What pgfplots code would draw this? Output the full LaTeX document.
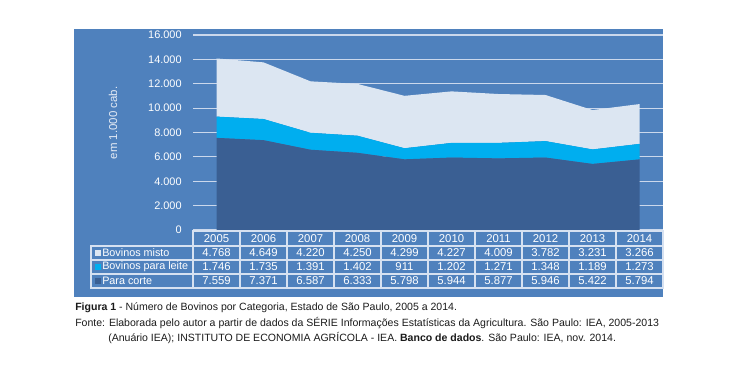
\documentclass[border=0pt]{standalone}
\usepackage{pgfplots}
\pgfplotsset{compat=1.18}
\usepackage{fontspec}
\setmainfont{Liberation Sans}
\definecolor{panel}{HTML}{4F81BD}
\definecolor{gridc}{HTML}{CBD8EC}
\definecolor{corte}{HTML}{3A5F93}
\definecolor{leite}{HTML}{00AEEF}
\definecolor{misto}{HTML}{DCE6F2}
\definecolor{tblc}{HTML}{D6E1F1}
\definecolor{labc}{HTML}{E4EBF5}
\definecolor{capc}{HTML}{1A1A1A}
\begin{document}
\begin{tikzpicture}
\begin{scope}[x=0.75pt,y=-0.75pt]
\path[use as bounding box] (0,0) rectangle (737,373);
\fill[panel] (74,29) rectangle (663,297);
\node[rotate=90, font=\fontsize{8.6}{10}\selectfont, text=labc] at (113,123) {em 1.000 cab.};
\end{scope}
\begin{axis}[
  at={(144.75pt,-172.5pt)}, anchor=south west,
  scale only axis, width=352.5pt, height=146.25pt,
  xmin=-0.5, xmax=9.5, ymin=0, ymax=16000,
  axis line style={draw=none},
  xtick=\empty,
  ytick={0,2000,...,16000},
  scaled y ticks=false,
  ymajorgrids, grid style={gridc, line width=0.8pt},
  major tick length=0pt,
  /pgf/number format/assume math mode=true,
  /pgf/number format/1000 sep={.},
  yticklabel style={font=\fontsize{8.2}{9}\selectfont, text=white, anchor=east, xshift=-5pt},
  stack plots=y,
]
\addplot[fill=corte, draw=none] coordinates {(0,7559) (1,7371) (2,6587) (3,6333) (4,5798) (5,5944) (6,5877) (7,5946) (8,5422) (9,5794)} \closedcycle;
\addplot[fill=leite, draw=none] coordinates {(0,1746) (1,1735) (2,1391) (3,1402) (4,911) (5,1202) (6,1271) (7,1348) (8,1189) (9,1273)} \closedcycle;
\addplot[fill=misto, draw=none] coordinates {(0,4768) (1,4649) (2,4220) (3,4250) (4,4299) (5,4227) (6,4009) (7,3782) (8,3231) (9,3266)} \closedcycle;
\end{axis}
\begin{scope}[x=0.75pt,y=-0.75pt]
% table
\fill[panel] (193,231) rectangle (663,288);
\fill[panel] (91,246) rectangle (193,288);
\draw[tblc, line width=0.8pt] (193,231) rectangle (663,288);
\draw[tblc, line width=0.8pt] (91,246) rectangle (193,288);
\foreach \j in {1,...,9} {\draw[tblc, line width=0.8pt] ({193+47*\j},231) -- ({193+47*\j},288);}
\foreach \yy in {246,260,274} {\draw[tblc, line width=0.8pt] (91,\yy) -- (663,\yy);}
\begin{scope}[every node/.style={font=\fontsize{8.5}{10}\selectfont, text=white, inner sep=0pt}]
\foreach \t [count=\i from 0] in {2005,2006,2007,2008,2009,2010,2011,2012,2013,2014}
  {\node at ({216.5+47*\i},238.5) {\t};}
\foreach \t [count=\i from 0] in {4.768,4.649,4.220,4.250,4.299,4.227,4.009,3.782,3.231,3.266}
  {\node at ({216.5+47*\i},253) {\t};}
\foreach \t [count=\i from 0] in {1.746,1.735,1.391,1.402,911,1.202,1.271,1.348,1.189,1.273}
  {\node at ({216.5+47*\i},267) {\t};}
\foreach \t [count=\i from 0] in {7.559,7.371,6.587,6.333,5.798,5.944,5.877,5.946,5.422,5.794}
  {\node at ({216.5+47*\i},281) {\t};}
\fill[misto] (95,250) rectangle (101,256);
\fill[leite] (95,264) rectangle (101,270);
\fill[corte] (95,278) rectangle (101,284);
\begin{scope}[every node/.append style={font=\fontsize{8.1}{10}\selectfont}]
\node[anchor=west] at (102,253) {Bovinos misto};
\node[anchor=west] at (102,267) {Bovinos para leite};
\node[anchor=west] at (102,281) {Para corte};
\end{scope}
\end{scope}
% caption
\begin{scope}[every node/.style={font=\fontsize{7.9}{9}\selectfont, text=capc, inner sep=0pt, anchor=base west}]
\node at (75,310.5) {\textbf{Figura 1} - Número de Bovinos por Categoria, Estado de São Paulo, 2005 a 2014.};
\node at (75,326.5) {Fonte: Elaborada pelo autor a partir de dados da SÉRIE Informações Estatísticas da Agricultura. São Paulo: IEA, 2005-2013};
\node at (108,341.5) {(Anuário IEA); INSTITUTO DE ECONOMIA AGRÍCOLA - IEA. \textbf{Banco de dados}. São Paulo: IEA, nov. 2014.};
\end{scope}
\end{scope}
\end{tikzpicture}
\end{document}
